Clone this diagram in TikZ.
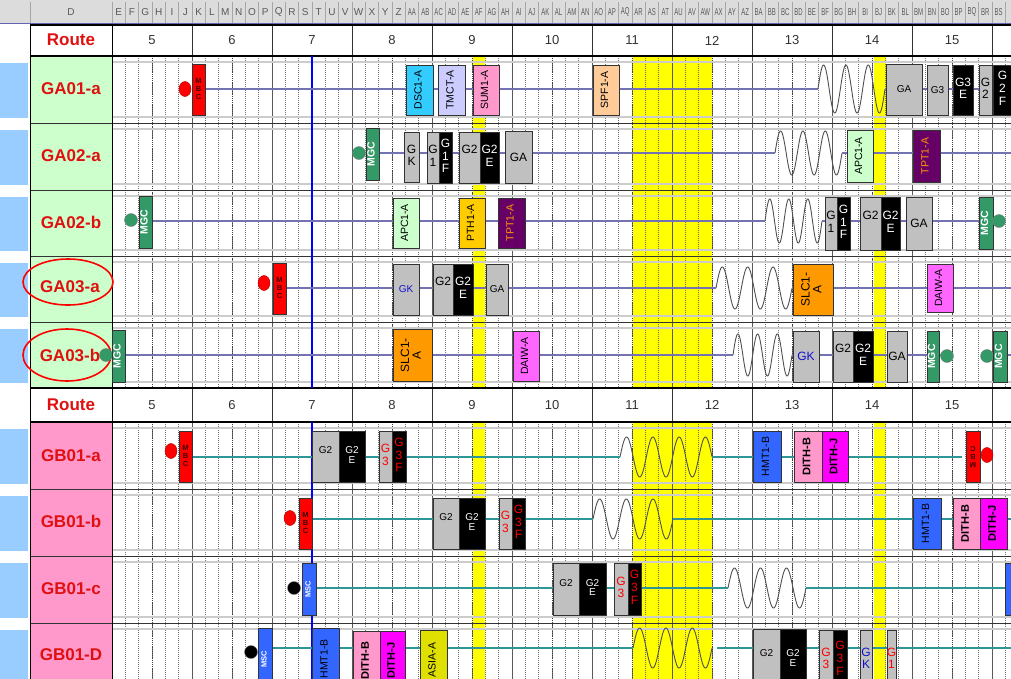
\documentclass[tikz,border=0pt]{standalone}
\usepackage{fontspec}
\setmainfont{Liberation Sans}
\usepackage{graphicx}
\usetikzlibrary{shapes.geometric}
\definecolor{hdr}{HTML}{DCDCDC}
\definecolor{hdrline}{HTML}{6464B4}
\definecolor{lblue}{HTML}{99CCFF}
\definecolor{lgreen}{HTML}{CCFFCC}
\definecolor{lpink}{HTML}{FF99CC}
\definecolor{ylw}{HTML}{FFFF00}
\definecolor{gaL}{HTML}{7373B3}
\definecolor{gbL}{HTML}{2E9696}
\definecolor{mgc}{HTML}{339966}
\definecolor{gbx}{HTML}{C0C0C0}
\definecolor{dsc}{HTML}{33CCFF}
\definecolor{tmct}{HTML}{CCCCFF}
\definecolor{spf}{HTML}{FFCC99}
\definecolor{pth}{HTML}{FFCC00}
\definecolor{tpt}{HTML}{660066}
\definecolor{tpttx}{HTML}{FF9900}
\definecolor{slc}{HTML}{FF9900}
\definecolor{daiw}{HTML}{FF66FF}
\definecolor{hmt}{HTML}{3366FF}
\definecolor{dithj}{HTML}{FF00FF}
\definecolor{asia}{HTML}{E0E000}
\definecolor{labred}{HTML}{E01010}
\definecolor{wavec}{HTML}{505050}
\definecolor{gkc}{HTML}{1010CC}
\definecolor{mbct}{HTML}{400000}
\newcommand\RR[1]{\rotatebox{90}{\begin{tabular}{@{}c@{}}#1\end{tabular}}}
\newcommand\ST[1]{\begin{tabular}{@{}c@{}}#1\end{tabular}}
\renewcommand\arraystretch{0.9}
\newcommand\bx[9][]{\node[bxs,fill=#7,text=#8,minimum width=#4-#3,minimum height=#6-#5,#1] (#2) at ({(#3+#4)/2},{(#5+#6)/2}) {#9};}
\newcommand\wv[6]{\coordinate (#1s) at (#2,#4); \coordinate (#1e) at (#3,#4);
  \draw[wavy] plot[domain=0:1,samples=200] ({#2+(#3-#2)*\x},{#4-#6*sin(#5*360*\x)});}
\begin{document}
\begin{tikzpicture}[x=1pt,y=-1pt,
  bxs/.style={draw=black!80, line width=0.5pt, inner sep=0pt, align=center, font=\fontsize{10.5}{11}\selectfont},
  circ/.style={circle, inner sep=0pt, minimum size=13pt, draw=black!50, line width=0.4pt},
  redc/.style={ellipse, inner sep=0pt, minimum width=12pt, minimum height=15pt, draw=red!70!black, line width=0.4pt, fill=red},
  galine/.style={gaL, line width=1.6pt},
  gbline/.style={gbL, line width=2.2pt},
  wavy/.style={wavec, line width=0.9pt},
  lab/.style={text=labred, font=\bfseries\fontsize{17}{17}\selectfont},
  num/.style={font=\fontsize{13}{13}\selectfont, text=black!80},
  hl/.style={font=\fontsize{10}{10}\selectfont, text=black!65},
  tiny5/.style={font=\bfseries\fontsize{7.5}{9}\selectfont},
  bold10/.style={font=\bfseries\fontsize{11}{11}\selectfont},
  mgcf/.style={font=\bfseries\fontsize{10.5}{11}\selectfont},
  mscf/.style={font=\bfseries\fontsize{7.5}{8}\selectfont},
  gf/.style={font=\fontsize{10}{11}\selectfont},
  gs/.style={font=\fontsize{12}{14}\selectfont},
]
\useasboundingbox (0,0) rectangle (1011,678);
\clip (0,0) rectangle (1011,678);
\fill[white] (0,0) rectangle (1011,678);
% header
\fill[hdr] (0,0) rectangle (1011,23);
\foreach \k in {0,...,67} \draw[black!35, line width=0.5] ({112+13.333*\k},2) -- ++(0,21);
\draw[black!35, line width=0.5] (30,2) -- (30,23);
\node[hl] (hD) at (71,12) {D};
\foreach \l [count=\i from 0] in {E,F,G,H,I,J,K,L,M,N,O,P,Q,R,S,T,U,V,W,X,Y,Z}
  \node[hl] (h\i) at ({112+13.333*\i+6.667},12) {\l};
\foreach \l [count=\i from 22] in {AA,AB,AC,AD,AE,AF,AG,AH,AI,AJ,AK,AL,AM,AN,AO,AP,AQ,AR,AS,AT,AU,AV,AW,AX,AY,AZ,BA,BB,BC,BD,BE,BF,BG,BH,BI,BJ,BK,BL,BM,BN,BO,BP,BQ,BR,BS}
  \node[hl] (h\i) at ({112+13.333*\i+6.667},12) {\scalebox{0.6}[1]{\l}};
\draw[hdrline, line width=1.6] (0,23.5) -- (1011,23.5);
% label column fills
\fill[lgreen] (30,56) rectangle (112,388);
\fill[lpink] (30,422) rectangle (112,690);
% yellow bands
\foreach \t/\b in {56/388,422/690} {
  \fill[ylw] (633,\t) rectangle (712,\b);
  \fill[ylw] (473,\t) rectangle (485,\b);
  \fill[ylw] (874,\t) rectangle (886,\b);
}
% grid in data rows
\foreach \t/\b in {56/388,422/690} {
  \foreach \k in {1,...,67} \draw[black!55, line width=0.6, dash pattern=on 1pt off 1pt] ({112+13.333*\k},\t) -- ({112+13.333*\k},\b);
  \foreach \k in {0,...,11} \draw[black!75, line width=0.7, dash pattern=on 1.2pt off 1pt] ({152+80*\k},\t) -- ({152+80*\k},\b);
  \foreach \k in {0,...,11} \draw[black!65, line width=0.8] ({112+80*\k},\t) -- ({112+80*\k},\b);
}
\foreach \t/\b in {56/123,123/190,190/256,256/322,322/388,422/489,489/556,556/623,623/690} {
  \draw[black!20, line width=1.2] (112,\t+6) -- (1011,\t+6);
  \draw[black!20, line width=1.2] (112,\b-6) -- (1011,\b-6);
  \fill[lblue] (0,\t+7) rectangle (28,\b-5);
}
\foreach \y in {123,190,256,322,489,556,623} \draw[black!80, line width=0.8] (30,\y) -- (1011,\y);
% route rows
\foreach \t/\b/\p in {25/56/n,388/422/m} {
  \fill[white] (30,\t) rectangle (1011,\b);
  \foreach \k in {0,...,11} \draw[black!80, line width=0.8] ({112+80*\k},\t) -- ({112+80*\k},\b);
  \draw[black, line width=1.2] (30,\t) -- (1011,\t);
  \draw[black, line width=1.4] (30,\b) -- (1011,\b);
  \foreach \n [count=\i from 0] in {5,...,15} \node[num] (\p\n) at ({152+80*\i},{(\t+\b)/2}) {\n};
}
\node[lab] (rt1) at (71,40) {Route};
\node[lab] (rt2) at (71,405) {Route};
\draw[black, line width=0.8] (30,25) -- (30,690);
\draw[black, line width=0.8] (112,25) -- (112,690);
% blue vertical marker
\draw[blue, line width=1.5] (312,56) -- (312,388);
\draw[blue, line width=1.5] (312,422) -- (312,690);
% labels
\node[lab] (l1) at (71,89) {GA01-a};
\node[lab] (l2) at (71,156) {GA02-a};
\node[lab] (l3) at (71,222) {GA02-b};
\node[lab] (l4) at (70,287) {GA03-a};
\node[lab] (l5) at (70,355) {GA03-b};
\node[lab] (l6) at (71,456) {GB01-a};
\node[lab] (l7) at (71,521) {GB01-b};
\node[lab] (l8) at (71,589) {GB01-c};
\node[lab] (l9) at (71,655) {GB01-D};
\draw[red, line width=1.6] (68,282) ellipse [x radius=45, y radius=23];
\draw[red, line width=1.6] (67,355) ellipse [x radius=44, y radius=26];

% ---------- GA01-a ----------
\coordinate (a1s) at (204,89); \coordinate (a1e) at (1011,89);
\wv{w1}{818}{885}{89}{3}{24}
\draw[galine] (a1s) -- (w1s);
\draw[galine] (w1e) -- (a1e);
\node[redc] (c1) at (185,89) {};
\bx[tiny5]{mbc1}{192}{205}{64}{115}{red}{mbct}{\ST{M\\B\\C}}
\bx{dsc1}{406}{433}{65}{115}{dsc}{black}{\RR{DSC1-A}}
\bx{tmct1}{438}{465}{65}{115}{tmct}{black}{\RR{TMCT-A}}
\bx{sum1}{473}{499}{65}{115}{lpink}{black}{\RR{SUM1-A}}
\bx{spf1}{593}{619}{65}{115}{spf}{black}{\RR{SPF1-A}}
\bx[gf]{ga1}{886}{922}{64}{115}{gbx}{black}{GA}
\bx[gf]{g3a}{927}{948}{65}{115}{gbx}{black}{G3}
\bx[gs]{g3e1}{953}{973}{65}{115}{black}{white}{\ST{G3\\E}}
\bx[gs]{g2a}{979}{992}{65}{115}{gbx}{black}{\ST{G\\2}}
\bx[gs]{g2f1}{993}{1012}{65}{115}{black}{white}{\ST{G\\2\\F}}

% ---------- GA02-a ----------
\coordinate (a2s) at (379,153); \coordinate (a2e) at (1011,153);
\wv{w2}{775}{842}{153}{3}{22}
\draw[galine] (a2s) -- (w2s);
\draw[galine] (w2e) -- (a2e);
\node[circ, fill=mgc] (c2) at (359,153) {};
\bx[mgcf]{mgc2}{366}{379}{128}{180}{mgc}{white}{\RR{MGC}}
\bx[gs]{gk2}{404}{419}{132}{182}{gbx}{black}{\ST{G\\K}}
\bx[gs]{g1b}{427}{439}{132}{183}{gbx}{black}{\ST{G\\1}}
\bx[gs]{g1f2}{439}{452}{132}{183}{black}{white}{\ST{G\\1\\F}}
\bx[gs]{g2c}{459}{480}{132}{183}{gbx}{black}{\ST{G2\\\phantom{E}}}
\bx[gs]{g2e2}{480}{499}{132}{183}{black}{white}{\ST{G2\\E}}
\bx[gs]{ga2}{505}{532}{131}{183}{gbx}{black}{GA}
\bx{apc2}{847}{873}{130}{182}{lgreen}{black}{\RR{APC1-A}}
\bx{tpt2}{913}{940}{130}{182}{tpt}{tpttx}{\RR{TPT1-A}}

% ---------- GA02-b ----------
\coordinate (a3s) at (152,221); \coordinate (a3e) at (979,221);
\wv{w3}{765}{822}{221}{3}{22}
\draw[galine] (a3s) -- (w3s);
\draw[galine] (w3e) -- (a3e);
\node[circ, fill=mgc] (c3) at (131,220) {};
\bx[mgcf]{mgc3}{139}{152}{196}{248}{mgc}{white}{\RR{MGC}}
\bx{apc3}{393}{419}{198}{248}{lgreen}{black}{\RR{APC1-A}}
\bx{pth3}{459}{485}{198}{248}{pth}{black}{\RR{PTH1-A}}
\bx{tpt3}{498}{525}{198}{248}{tpt}{tpttx}{\RR{TPT1-A}}
\bx[gs]{g1c}{825}{837}{197}{250}{gbx}{black}{\ST{G\\1}}
\bx[gs]{g1f3}{837}{850}{197}{250}{black}{white}{\ST{G\\1\\F}}
\bx[gs]{g2d}{860}{881}{197}{250}{gbx}{black}{\ST{G2\\\phantom{E}}}
\bx[gs]{g2e3}{881}{900}{197}{250}{black}{white}{\ST{G2\\E}}
\bx[gs]{ga3}{906}{932}{197}{250}{gbx}{black}{GA}
\bx[mgcf]{mgc3b}{979}{993}{197}{249}{mgc}{white}{\RR{MGC}}
\node[circ, fill=mgc] (c3b) at (999,221) {};

% ---------- GA03-a ----------
\coordinate (a4s) at (286,288); \coordinate (a4e) at (1011,288);
\wv{w4}{716}{792}{288}{3}{21}
\draw[galine] (a4s) -- (w4s);
\draw[galine] (w4e) -- (a4e);
\node[redc] (c4) at (264,283) {};
\bx[tiny5]{mbc4}{273}{286}{263}{314}{red}{mbct}{\ST{M\\B\\C}}
\bx[gf]{gk4}{393}{419}{264}{315}{gbx}{gkc}{GK}
\bx[gs]{g2e}{433}{453}{264}{315}{gbx}{black}{\ST{G2\\\phantom{E}}}
\bx[gs]{g2e4}{453}{473}{264}{315}{black}{white}{\ST{G2\\E}}
\bx[gf]{ga4}{486}{508}{264}{315}{gbx}{black}{GA}
\bx[font=\fontsize{12}{12.5}\selectfont]{slc4}{793}{833}{264}{315}{slc}{black}{\RR{SLC1-\\A}}
\bx{daiw4}{927}{953}{264}{312}{daiw}{black}{\RR{DAIW-A}}

% ---------- GA03-b ----------
\coordinate (a5s) at (124,355); \coordinate (a5e) at (941,355);
\coordinate (a5r) at (1006,355); \coordinate (a5z) at (1011,355);
\wv{w5}{733}{792}{355}{3}{21}
\draw[galine] (a5s) -- (w5s);
\draw[galine] (w5e) -- (a5e);
\draw[galine] (a5r) -- (a5z);
\node[circ, fill=mgc] (c5) at (106,355) {};
\bx[mgcf]{mgc5}{112}{125}{330}{382}{mgc}{white}{\RR{MGC}}
\bx[font=\fontsize{12}{12.5}\selectfont]{slc5}{393}{432}{329}{381}{slc}{black}{\RR{SLC1-\\A}}
\bx{daiw5}{513}{539}{331}{381}{daiw}{black}{\RR{DAIW-A}}
\bx[gs]{gk5}{793}{819}{331}{382}{gbx}{gkc}{GK}
\bx[gs]{g2f}{833}{853}{331}{382}{gbx}{black}{\ST{G2\\\phantom{E}}}
\bx[gs]{g2e5}{853}{873}{331}{382}{black}{white}{\ST{G2\\E}}
\bx[gs]{ga5}{887}{907}{331}{382}{gbx}{black}{GA}
\bx[mgcf]{mgc5b}{927}{939}{331}{382}{mgc}{white}{\RR{MGC}}
\node[circ, fill=mgc] (c5b) at (947,356) {};
\node[circ, fill=mgc] (c5c) at (987,356) {};
\bx[mgcf]{mgc5c}{993}{1007}{331}{382}{mgc}{white}{\RR{MGC}}

% ---------- GB01-a ----------
\coordinate (b1s) at (192,457); \coordinate (b1e) at (962,457);
\wv{v1}{620}{712}{457}{3.5}{20}
\draw[gbline] (b1s) -- (v1s);
\draw[gbline] (v1e) -- (b1e);
\node[redc] (c6) at (171,451) {};
\bx[tiny5]{mbc6}{179}{192}{431}{482}{red}{mbct}{\ST{M\\B\\C}}
\bx[gf]{g2g}{312}{339}{431}{482}{gbx}{black}{\ST{G2\\\phantom{E}}}
\bx[gf]{g2e6}{339}{365}{431}{482}{black}{white}{\ST{G2\\E}}
\bx[gs]{g3g}{379}{392}{431}{482}{gbx}{red}{\ST{G\\3}}
\bx[gs]{g3f6}{392}{406}{431}{482}{black}{red}{\ST{G\\3\\F}}
\bx{hmt6}{753}{781}{431}{482}{hmt}{black}{\RR{HMT1-B}}
\bx[bold10]{dithb6}{794}{822}{431}{482}{lpink}{black}{\RR{DITH-B}}
\bx[bold10]{dithj6}{822}{848}{431}{482}{dithj}{black}{\RR{DITH-J}}
\bx[tiny5]{mbc6b}{966}{980}{431}{482}{red}{mbct}{\rotatebox{180}{\ST{M\\B\\C}}}
\node[redc] (c6b) at (987,455) {};

% ---------- GB01-b ----------
\coordinate (b2s) at (312,519); \coordinate (b2e) at (1011,519);
\wv{v2}{593}{673}{519}{3}{20}
\draw[gbline] (b2s) -- (v2s);
\draw[gbline] (v2e) -- (b2e);
\node[redc] (c7) at (290,518) {};
\bx[tiny5]{mbc7}{299}{312}{498}{549}{red}{mbct}{\ST{M\\B\\C}}
\bx[gf]{g2h}{433}{459}{498}{549}{gbx}{black}{\ST{G2\\\phantom{E}}}
\bx[gf]{g2e7}{459}{485}{498}{549}{black}{white}{\ST{G2\\E}}
\bx[gs]{g3h}{499}{512}{498}{549}{gbx}{red}{\ST{G\\3}}
\bx[gs]{g3f7}{512}{525}{498}{549}{black}{red}{\ST{G\\3\\F}}
\bx{hmt7}{913}{941}{498}{549}{hmt}{black}{\RR{HMT1-B}}
\bx[bold10]{dithb7}{953}{980}{498}{549}{lpink}{black}{\RR{DITH-B}}
\bx[bold10]{dithj7}{980}{1007}{498}{549}{dithj}{black}{\RR{DITH-J}}

% ---------- GB01-c ----------
\coordinate (b3s) at (316,588); \coordinate (b3e) at (1005,588);
\wv{v3}{728}{806}{588}{3}{20}
\draw[gbline] (b3s) -- (v3s);
\draw[gbline] (v3e) -- (b3e);
\node[circ, fill=black] (c8) at (294,588) {};
\bx[mscf]{msc8}{302}{316}{563}{615}{hmt}{white}{\RR{MSC}}
\bx[gf]{g2i}{553}{579}{563}{615}{gbx}{black}{\ST{G2\\\phantom{E}}}
\bx[gf]{g2e8}{579}{606}{563}{615}{black}{white}{\ST{G2\\E}}
\bx[gs]{g3i}{614}{628}{563}{615}{gbx}{red}{\ST{G\\3}}
\bx[gs]{g3f8}{628}{641}{563}{615}{black}{red}{\ST{G\\3\\F}}
\bx{hmt8b}{1005}{1020}{563}{615}{hmt}{black}{}

% ---------- GB01-D ----------
\coordinate (b4s) at (272,648); \coordinate (b4m) at (717,648); \coordinate (b4e) at (1011,648);
\wv{v4}{633}{712}{648}{3}{20}
\draw[gbline] (b4s) -- (v4s);
\draw[gbline] (b4m) -- (b4e);
\node[circ, fill=black] (c9) at (251,652) {};
\bx[mscf]{msc9}{258}{272}{628}{690}{hmt}{white}{\RR{MSC}}
\bx{hmt9}{312}{339}{628}{690}{hmt}{black}{\RR{HMT1-B}}
\bx[bold10]{dithb9}{353}{380}{631}{690}{lpink}{black}{\RR{DITH-B}}
\bx[bold10]{dithj9}{380}{405}{631}{690}{dithj}{black}{\RR{DITH-J}}
\bx{asia9}{420}{447}{630}{690}{asia}{black}{\RR{ASIA-A}}
\bx[gf]{g2j}{753}{780}{629}{690}{gbx}{black}{\ST{G2\\\phantom{E}}}
\bx[gf]{g2e9}{780}{806}{629}{690}{black}{white}{\ST{G2\\E}}
\bx[gs]{g3j}{819}{833}{630}{690}{gbx}{red}{\ST{G\\3}}
\bx[gs]{g3f9}{833}{847}{630}{690}{black}{red}{\ST{G\\3\\F}}
\bx[gs]{gkj}{860}{872}{630}{690}{gbx}{gkc}{\ST{G\\K}}
\bx[gs]{g1j}{887}{896}{630}{690}{gbx}{red}{\ST{G\\1}}
\end{tikzpicture}
\end{document}
